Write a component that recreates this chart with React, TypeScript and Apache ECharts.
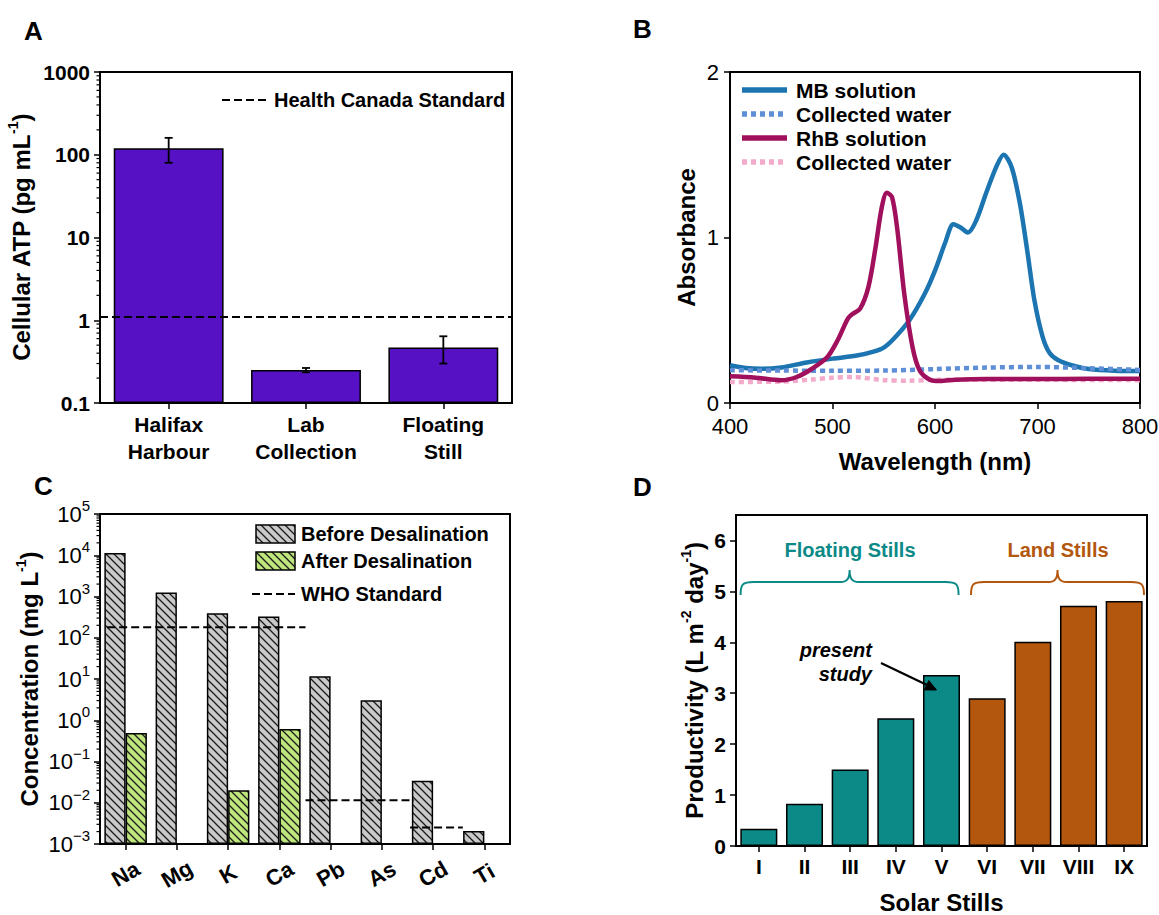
import React, { useEffect, useRef } from 'react';
import * as echarts from 'echarts';

const FONT = "'Liberation Sans', Arial, Helvetica, sans-serif";

// ---------- Panel A: cellular ATP ----------
const atpSites = ['Halifax\nHarbour', 'Lab\nCollection', 'Floating\nStill'];
const atpMean = [120, 0.25, 0.47];
const atpError = [40, 0.015, 0.17];
const healthCanadaStandard = 1.1;

// ---------- Panel B: absorbance spectra ----------
const mbWavelength = [400, 415, 430, 450, 475, 500, 525, 540, 550, 560, 575, 590, 600, 610, 618, 625, 632, 640, 650, 660, 667, 675, 683, 690, 697, 705, 712, 720, 735, 750, 775, 800];
const mbSolution = [0.228, 0.212, 0.207, 0.215, 0.245, 0.268, 0.288, 0.31, 0.335, 0.39, 0.5, 0.66, 0.8, 0.97, 1.08, 1.06, 1.03, 1.1, 1.27, 1.43, 1.5, 1.42, 1.2, 0.92, 0.62, 0.4, 0.3, 0.26, 0.225, 0.205, 0.195, 0.193];
const mbWaterWavelength = [400, 450, 500, 550, 600, 650, 700, 750, 800];
const mbWater = [0.198, 0.196, 0.195, 0.196, 0.205, 0.214, 0.218, 0.21, 0.2];
const rhbWavelength = [400, 425, 450, 465, 480, 495, 505, 515, 520, 527, 535, 542, 548, 553, 558, 563, 570, 578, 585, 595, 605, 620, 650, 700, 750, 800];
const rhbSolution = [0.161, 0.153, 0.137, 0.157, 0.207, 0.278, 0.379, 0.51, 0.54, 0.57, 0.7, 0.94, 1.18, 1.27, 1.245, 1.06, 0.66, 0.34, 0.197, 0.141, 0.133, 0.141, 0.145, 0.145, 0.146, 0.147];
const rhbWaterWavelength = [400, 450, 480, 500, 520, 550, 575, 600, 700, 800];
const rhbWater = [0.127, 0.13, 0.142, 0.153, 0.157, 0.138, 0.135, 0.14, 0.14, 0.138];

// ---------- Panel C: ion concentrations ----------
const elements = ['Na', 'Mg', 'K', 'Ca', 'Pb', 'As', 'Cd', 'Ti'];
const beforeDesal = [11400, 1250, 395, 328, 11.6, 3.05, 0.034, 0.00206];
const afterDesal = [0.49, null, 0.0202, 0.617, null, null, null, null];
const whoStart = [-0.36, 3.51, 5.55];
const whoEnd = [3.51, 5.63, 6.58];
const whoValue = [180, 0.0115, 0.0025];

// ---------- Panel D: productivity ----------
const stills = ['I', 'II', 'III', 'IV', 'V', 'VI', 'VII', 'VIII', 'IX'];
const productivity = [0.34, 0.83, 1.5, 2.51, 3.36, 2.9, 4.01, 4.72, 4.81];
const stillKind = ['floating', 'floating', 'floating', 'floating', 'floating', 'land', 'land', 'land', 'land'];

const PURPLE = '#5611c4';
const TEAL = '#0c8a88';
const ORANGE = '#b3560e';
const GRAY = '#c9c9c9';
const GREEN = '#bfe67d';
const MB = '#1c74b1';
const MBW = '#5e8fd6';
const RHB = '#a0105c';
const RHBW = '#f4aacb';

function bracePath(w: number, h: number) {
  const m = w / 2;
  const ly = 12;
  const r = 13;
  return `M0,${h} C0,${ly + 2} 2,${ly} ${r},${ly} L${m - 9},${ly} C${m - 2},${ly} ${m},${ly - 4} ${m},0 C${m},${ly - 4} ${m + 2},${ly} ${m + 9},${ly} L${w - r},${ly} C${w - 2},${ly} ${w},${ly + 2} ${w},${h}`;
}

let shapesRegistered = false;
function registerShapes() {
  if (shapesRegistered) return;
  shapesRegistered = true;
  echarts.graphic.registerShape('floatBrace', echarts.graphic.extendPath(bracePath(218, 25), {}) as any);
  echarts.graphic.registerShape('landBrace', echarts.graphic.extendPath(bracePath(173, 25), {}) as any);
}

function makeHatch(bg: string): any {
  const c = document.createElement('canvas');
  c.width = 8;
  c.height = 8;
  const ctx = c.getContext('2d')!;
  ctx.fillStyle = bg;
  ctx.fillRect(0, 0, 8, 8);
  ctx.strokeStyle = '#1a1a1a';
  ctx.lineWidth = 1.3;
  ctx.beginPath();
  ctx.moveTo(-2, -2);
  ctx.lineTo(10, 10);
  ctx.moveTo(-2, 6);
  ctx.lineTo(2, 10);
  ctx.moveTo(6, -2);
  ctx.lineTo(10, 2);
  ctx.stroke();
  return { image: c, repeat: 'repeat', imageWidth: 8, imageHeight: 8 };
}

function logMinorTickValues(minExp: number, maxExp: number) {
  const out: number[][] = [];
  for (let e = minExp; e < maxExp; e++) {
    for (let m = 2; m <= 9; m++) out.push([0, m * Math.pow(10, e)]);
  }
  return out;
}

const minorTickItem = (params: any, api: any) => {
  const p = api.coord([api.value(0), api.value(1)]);
  const x0 = params.coordSys.x;
  return {
    type: 'line',
    silent: true,
    shape: { x1: x0 - 3.5, y1: p[1], x2: x0, y2: p[1] },
    style: { stroke: '#000', lineWidth: 1.2 },
  };
};

const errorBarItem = (params: any, api: any) => {
  const x = api.value(0);
  const m = api.value(1);
  const e = api.value(2);
  const hi = api.coord([x, m + e]);
  const lo = api.coord([x, m - e]);
  const w = 4;
  const st = { stroke: '#000', lineWidth: 1.8 };
  return {
    type: 'group',
    children: [
      { type: 'line', shape: { x1: hi[0], y1: hi[1], x2: lo[0], y2: lo[1] }, style: st },
      { type: 'line', shape: { x1: hi[0] - w, y1: hi[1], x2: hi[0] + w, y2: hi[1] }, style: st },
      { type: 'line', shape: { x1: lo[0] - w, y1: lo[1], x2: lo[0] + w, y2: lo[1] }, style: st },
    ],
  };
};

const axisLine = { show: true, onZero: false, lineStyle: { color: '#000', width: 2 } };
const axisTick = { show: true, inside: false, length: 6, lineStyle: { color: '#000', width: 1.5 } };
const nameStyle = (rich = false, lineHeight = 30) => ({
  fontFamily: FONT,
  fontSize: 24,
  fontWeight: 'bold',
  color: '#000',
  lineHeight,
  ...(rich
    ? { rich: { sup: { fontFamily: FONT, fontSize: 14, fontWeight: 'bold', color: '#000', verticalAlign: 'top', lineHeight: 16 } } }
    : {}),
});

function txt(x: number, y: number, text: string, o: any = {}) {
  return {
    type: 'text',
    x,
    y,
    z: 100,
    silent: true,
    style: {
      text,
      fill: o.color || '#000',
      fontFamily: FONT,
      fontSize: o.size || 20,
      fontWeight: o.weight || 'bold',
      fontStyle: o.style || 'normal',
      align: o.align || 'left',
      verticalAlign: 'middle',
    },
  };
}

function seg(x1: number, y1: number, x2: number, y2: number, stroke: string, lineWidth: number, dash?: number[]) {
  return {
    type: 'line',
    z: 100,
    silent: true,
    shape: { x1, y1, x2, y2 },
    style: { stroke, lineWidth, lineDash: dash || null },
  };
}

export default function App() {
  const ref = useRef<HTMLDivElement>(null);

  useEffect(() => {
    if (!ref.current) return;
    registerShapes();
    const chart = echarts.init(ref.current, null, { renderer: 'svg' });
    const grayHatch = makeHatch(GRAY);
    const greenHatch = makeHatch(GREEN);

    const grids = [
      { left: 100, top: 72, width: 412, height: 331 },
      { left: 730, top: 72, width: 410, height: 331 },
      { left: 100, top: 514, width: 410, height: 330 },
      { left: 736, top: 515, width: 411, height: 331 },
    ].map((g) => ({ ...g, show: true, borderColor: '#000', borderWidth: 2, containLabel: false, outerBoundsMode: 'none' }));

    const option: any = {
      animation: false,
      textStyle: { fontFamily: FONT },
      grid: grids,
      xAxis: [
        {
          gridIndex: 0,
          type: 'category',
          data: atpSites,
          axisLine,
          axisTick: { ...axisTick, alignWithLabel: true },
          axisLabel: { interval: 0, color: '#000', fontFamily: FONT, fontSize: 21, fontWeight: 'bold', lineHeight: 27, margin: 8 },
          splitLine: { show: false },
        },
        {
          gridIndex: 1,
          type: 'value',
          min: 400,
          max: 800,
          interval: 100,
          axisLine,
          axisTick,
          axisLabel: { color: '#000', fontFamily: FONT, fontSize: 22, lineHeight: 22, margin: 12 },
          splitLine: { show: false },
          name: 'Wavelength (nm)',
          nameLocation: 'middle',
          nameGap: 46,
          nameTextStyle: nameStyle(false, 24),
        },
        {
          gridIndex: 2,
          type: 'category',
          data: elements,
          axisLine,
          axisTick: { ...axisTick, alignWithLabel: true },
          axisLabel: {
            interval: 0,
            rotate: 30,
            align: 'center',
            verticalAlign: 'middle',
            color: '#000',
            fontFamily: FONT,
            fontSize: 22,
            fontWeight: 'bold',
            margin: 30,
          },
          splitLine: { show: false },
        },
        {
          gridIndex: 2,
          type: 'value',
          min: -0.5,
          max: 7.5,
          show: false,
          position: 'top',
        },
        {
          gridIndex: 3,
          type: 'category',
          data: stills,
          axisLine,
          axisTick: { ...axisTick, alignWithLabel: true },
          axisLabel: { interval: 0, color: '#000', fontFamily: FONT, fontSize: 21, fontWeight: 'bold', margin: 10 },
          splitLine: { show: false },
          name: 'Solar Stills',
          nameLocation: 'middle',
          nameGap: 44,
          nameTextStyle: nameStyle(false, 24),
        },
      ],
      yAxis: [
        {
          gridIndex: 0,
          type: 'log',
          logBase: 10,
          min: 0.1,
          max: 1000,
          startValue: 0.1,
          splitNumber: 4,
          axisLine,
          axisTick,
          axisLabel: {
            color: '#000',
            fontFamily: FONT,
            fontSize: 21,
            fontWeight: 'bold',
            margin: 10,
            formatter: (v: number) => {
              const e = Math.round(Math.log10(v));
              return e < 0 ? Math.pow(10, e).toFixed(-e) : String(Math.pow(10, e));
            },
          },
          splitLine: { show: false },
          name: 'Cellular ATP (pg mL{sup|-1})',
          nameLocation: 'middle',
          nameGap: 64,
          nameTextStyle: nameStyle(true),
        },
        {
          gridIndex: 1,
          type: 'value',
          min: 0,
          max: 2,
          interval: 1,
          axisLine,
          axisTick,
          axisLabel: { color: '#000', fontFamily: FONT, fontSize: 22, lineHeight: 22, margin: 11 },
          splitLine: { show: false },
          name: 'Absorbance',
          nameLocation: 'middle',
          nameGap: 29,
          nameTextStyle: nameStyle(),
        },
        {
          gridIndex: 2,
          type: 'log',
          logBase: 10,
          min: 0.001,
          max: 100000,
          startValue: 0.001,
          splitNumber: 8,
          axisLine,
          axisTick,
          axisLabel: {
            color: '#000',
            fontFamily: FONT,
            fontSize: 22,
            lineHeight: 32,
            margin: 10,
            formatter: (v: number) => {
              const e = Math.round(Math.log10(v));
              return '10{sup|' + (e < 0 ? '\u2212' + -e : String(e)) + '}';
            },
            rich: { sup: { fontFamily: FONT, fontSize: 15, color: '#000', verticalAlign: 'top', lineHeight: 16 } },
          },
          splitLine: { show: false },
          name: 'Concentration (mg L{sup|-1})',
          nameLocation: 'middle',
          nameGap: 56,
          nameTextStyle: nameStyle(true),
        },
        {
          gridIndex: 3,
          type: 'value',
          min: 0,
          max: 6.5,
          interval: 1,
          axisLine,
          axisTick,
          axisLabel: {
            color: '#000',
            fontFamily: FONT,
            fontSize: 21,
            fontWeight: 'bold',
            margin: 10,
            showMaxLabel: false,
            formatter: (v: number) => (Number.isInteger(v) ? String(v) : ''),
          },
          splitLine: { show: false },
          name: 'Productivity (L m{sup|-2} day{sup|-1})',
          nameLocation: 'middle',
          nameGap: 27,
          nameTextStyle: nameStyle(true),
        },
      ],
      series: [
        // Panel A
        {
          type: 'bar',
          name: 'Cellular ATP',
          xAxisIndex: 0,
          yAxisIndex: 0,
          data: atpMean,
          barWidth: '80%',
          itemStyle: { color: PURPLE, borderColor: '#000', borderWidth: 1.5 },
          markLine: {
            silent: true,
            symbol: 'none',
            label: { show: false },
            lineStyle: { color: '#000', width: 2, type: [8, 4] },
            data: [{ yAxis: healthCanadaStandard }],
          },
        },
        {
          type: 'custom',
          name: 'ATP error',
          xAxisIndex: 0,
          yAxisIndex: 0,
          data: atpMean.map((m, i) => [i, m, atpError[i]]),
          encode: { x: 0, y: 1 },
          renderItem: errorBarItem,
          z: 5,
        },
        {
          type: 'custom',
          name: 'A minor ticks',
          xAxisIndex: 0,
          yAxisIndex: 0,
          data: logMinorTickValues(-1, 3),
          encode: { x: 0, y: 1 },
          renderItem: minorTickItem,
          clip: false,
          silent: true,
          z: 6,
        },
        // Panel B
        {
          type: 'line',
          name: 'Collected water (RhB)',
          xAxisIndex: 1,
          yAxisIndex: 1,
          data: rhbWaterWavelength.map((w, i) => [w, rhbWater[i]]),
          symbol: 'none',
          smooth: 0.3,
          lineStyle: { color: RHBW, width: 4.5, type: [5, 4], cap: 'butt' },
        },
        {
          type: 'line',
          name: 'MB solution',
          xAxisIndex: 1,
          yAxisIndex: 1,
          data: mbWavelength.map((w, i) => [w, mbSolution[i]]),
          symbol: 'none',
          smooth: 0.3,
          lineStyle: { color: MB, width: 4.5 },
        },
        {
          type: 'line',
          name: 'Collected water (MB)',
          xAxisIndex: 1,
          yAxisIndex: 1,
          data: mbWaterWavelength.map((w, i) => [w, mbWater[i]]),
          symbol: 'none',
          smooth: 0.3,
          lineStyle: { color: MBW, width: 4.5, type: [5, 4], cap: 'butt' },
        },
        {
          type: 'line',
          name: 'RhB solution',
          xAxisIndex: 1,
          yAxisIndex: 1,
          data: rhbWavelength.map((w, i) => [w, rhbSolution[i]]),
          symbol: 'none',
          smooth: 0.3,
          lineStyle: { color: RHB, width: 4.5 },
        },
        // Panel C
        {
          type: 'bar',
          name: 'Before Desalination',
          xAxisIndex: 2,
          yAxisIndex: 2,
          data: beforeDesal,
          barGap: '0%',
          barCategoryGap: '17%',
          itemStyle: { color: grayHatch, borderColor: '#000', borderWidth: 1.5 },
        },
        {
          type: 'bar',
          name: 'After Desalination',
          xAxisIndex: 2,
          yAxisIndex: 2,
          data: afterDesal,
          barGap: '0%',
          barCategoryGap: '17%',
          itemStyle: { color: greenHatch, borderColor: '#000', borderWidth: 1.5 },
        },
        ...whoValue.map((v, i) => ({
          type: 'line',
          name: 'WHO Standard',
          xAxisIndex: 3,
          yAxisIndex: 2,
          data: [
            [whoStart[i], v],
            [whoEnd[i], v],
          ],
          symbol: 'none',
          lineStyle: { color: '#000', width: 2, type: [8, 4] },
          z: 4,
        })),
        {
          type: 'custom',
          name: 'C minor ticks',
          xAxisIndex: 2,
          yAxisIndex: 2,
          data: logMinorTickValues(-3, 5),
          encode: { x: 0, y: 1 },
          renderItem: minorTickItem,
          clip: false,
          silent: true,
          z: 6,
        },
        // Panel D
        {
          type: 'bar',
          name: 'Productivity',
          xAxisIndex: 4,
          yAxisIndex: 3,
          data: productivity.map((v, i) => ({
            value: v,
            itemStyle: { color: stillKind[i] === 'floating' ? TEAL : ORANGE },
          })),
          barWidth: '81%',
          itemStyle: { borderColor: '#000', borderWidth: 1.5 },
        },
      ],
      graphic: [
        // panel letters
        txt(24, 31, 'A', { size: 26 }),
        txt(633, 29, 'B', { size: 26 }),
        txt(34, 486, 'C', { size: 26 }),
        txt(633, 487, 'D', { size: 26 }),
        // Panel A legend
        seg(222, 100, 268, 100, '#000', 2.2, [8, 4]),
        txt(274, 100, 'Health Canada Standard', { size: 20 }),
        // Panel B legend
        seg(742, 90, 787, 90, MB, 5.5),
        txt(796, 90, 'MB solution', { size: 21 }),
        seg(742, 114, 787, 114, MBW, 5.5, [5, 4]),
        txt(796, 114, 'Collected water', { size: 21 }),
        seg(742, 138, 787, 138, RHB, 5.5),
        txt(796, 138, 'RhB solution', { size: 21 }),
        seg(742, 162, 787, 162, RHBW, 5.5, [5, 4]),
        txt(796, 162, 'Collected water', { size: 21 }),
        // Panel C legend
        {
          type: 'rect',
          z: 100,
          silent: true,
          shape: { x: 256, y: 525, width: 39, height: 18 },
          style: { fill: grayHatch, stroke: '#000', lineWidth: 1.5 },
        },
        txt(301, 534, 'Before Desalination', { size: 20 }),
        {
          type: 'rect',
          z: 100,
          silent: true,
          shape: { x: 256, y: 552, width: 39, height: 18 },
          style: { fill: greenHatch, stroke: '#000', lineWidth: 1.5 },
        },
        txt(301, 561, 'After Desalination', { size: 20 }),
        seg(252, 594, 295, 594, '#000', 2, [8, 4]),
        txt(301, 594, 'WHO Standard', { size: 20 }),
        // Panel D annotations
        txt(850, 550, 'Floating Stills', { size: 20, color: TEAL, align: 'center' }),
        txt(1058, 550, 'Land Stills', { size: 20, color: ORANGE, align: 'center' }),
        { type: 'floatBrace', z: 100, x: 740.6, y: 570, silent: true, style: { fill: 'none', stroke: TEAL, lineWidth: 2 } },
        { type: 'landBrace', z: 100, x: 971, y: 570, silent: true, style: { fill: 'none', stroke: ORANGE, lineWidth: 2 } },
        txt(872, 650, 'present', { size: 20, style: 'italic', align: 'right' }),
        txt(872, 674, 'study', { size: 20, style: 'italic', align: 'right' }),
        seg(881, 663, 927, 685, '#000', 2.2),
        {
          type: 'polygon',
          z: 100,
          silent: true,
          shape: { points: [[936.5, 690], [924.4, 689.9], [928.8, 680.5]] },
          style: { fill: '#000', stroke: '#000', lineWidth: 1 },
        },
      ],
    };

    chart.setOption(option);
    return () => chart.dispose();
  }, []);

  return (
    <div
      ref={ref}
      style={{ position: 'absolute', left: 0, top: 0, width: 1159, height: 915, background: '#fff' }}
    />
  );
}
